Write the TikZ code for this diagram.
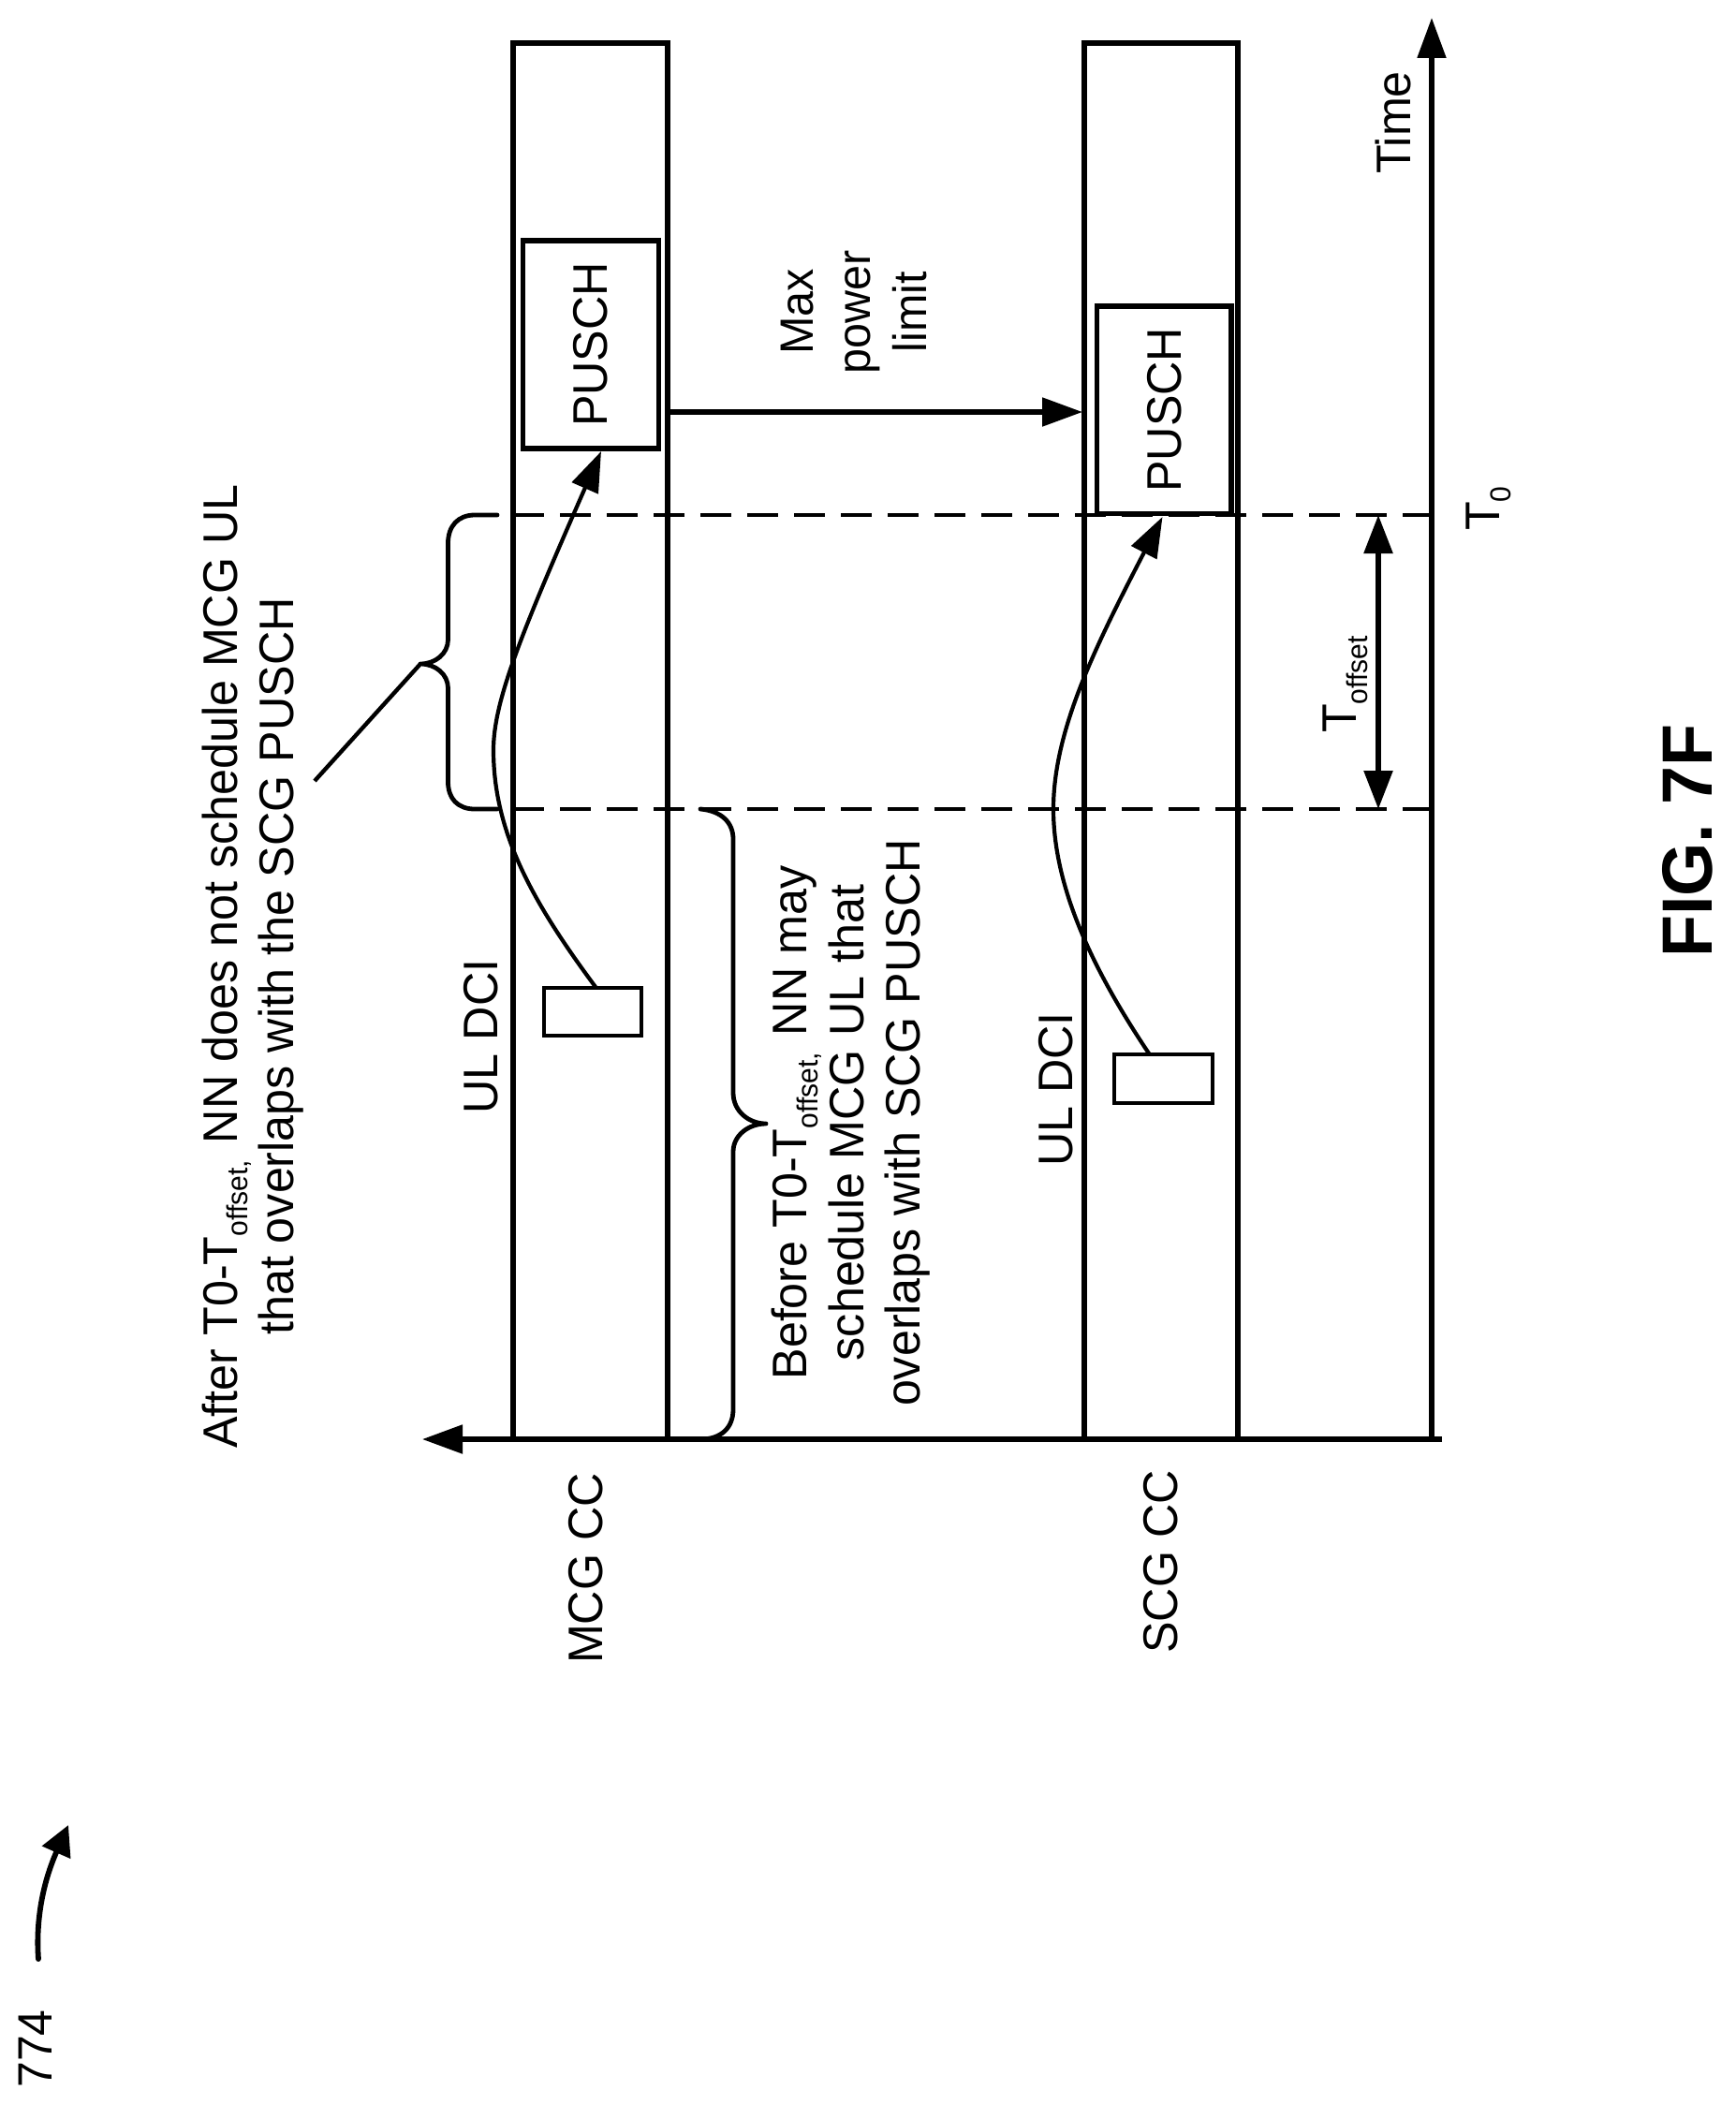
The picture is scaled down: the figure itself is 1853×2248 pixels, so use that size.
\documentclass[tikz,border=0pt]{standalone}
\usepackage{fontspec}
\setmainfont[FakeStretch=0.97]{Liberation Sans}
\usetikzlibrary{arrows.meta}
\newcommand{\lowsub}[1]{\raisebox{-0.22em}{\fontsize{31}{31}\selectfont #1}}
\tikzset{
  x=1pt,y=-1pt,
  lab/.style={rotate=90,inner sep=0pt,outer sep=0pt,align=center,font=\fontsize{51.8}{60.5}\selectfont},
  thick line/.style={line width=5.2pt},
  band/.style={draw,thick line,inner sep=0pt,outer sep=0pt},
  pbox/.style={draw,thick line,inner sep=0pt,outer sep=0pt,rotate=90,font=\fontsize{51.8}{60}\selectfont},
  dbox/.style={draw,line width=4.2pt,inner sep=0pt,outer sep=0pt},
  bighead/.style={-{Triangle[length=43pt,width=30pt]}},
  curvehead/.style={line width=4.2pt,-{Triangle[length=43pt,width=30pt]}},
  dashline/.style={line width=4.6pt,dash pattern=on 33pt off 17pt},
  bracelike/.style={line width=4.8pt,line join=round,line cap=round},
}
\begin{document}
\begin{tikzpicture}
\useasboundingbox (0,0) rectangle (1853,2248);
% bands
\node[band,minimum width=165pt,minimum height=1491pt] (mcgband) at (630.5,791.5) {};
\node[band,minimum width=164pt,minimum height=1491pt] (scgband) at (1240,791.5) {};
% boxes
\node[pbox,minimum width=222pt,minimum height=144.5pt] (pusch1) at (631,368) {PUSCH};
\node[pbox,minimum width=221.5pt,minimum height=143.5pt] (pusch2) at (1243.2,437.8) {PUSCH};
\node[dbox,minimum width=104pt,minimum height=51pt] (dci1) at (633,1080.5) {};
\node[dbox,minimum width=105pt,minimum height=51.5pt] (dci2) at (1242.5,1152) {};
% coordinates
\coordinate (origin) at (1529,1537);
\coordinate (timetip) at (1529,19);
\coordinate (axisend) at (1540,1537);
\coordinate (axistip) at (451,1537);
\coordinate (maxstart) at (713,440);
\coordinate (maxend) at (1156,440);
\coordinate (dtop) at (548,550);
\coordinate (dtopend) at (1529,550);
\coordinate (dbot) at (548,864);
\coordinate (dbotend) at (1529,864);
\coordinate (offtop) at (1472,550);
\coordinate (offbot) at (1472,864);
\coordinate (tip1) at (642,482);
\coordinate (from1) at (636,1054);
\coordinate (tip2) at (1241.5,552);
\coordinate (from2) at (1227,1125);
\coordinate (bracetip) at (449,709);
\coordinate (leaderend) at (336,834);
\coordinate (refstart) at (41,2092);
\coordinate (reftip) at (73,1949);
% axes
\draw[thick line,bighead] (axisend) -- (axistip);
\draw[thick line,bighead] (origin) -- (timetip);
% dashes
\draw[dashline] (dtop) -- (dtopend);
\draw[dashline] (dbot) -- (dbotend);
% arrows
\draw[thick line,bighead] (maxstart) -- (maxend);
\draw[line width=5.6pt,{Triangle[length=41pt,width=30pt]}-{Triangle[length=41pt,width=30pt]}] (offbot) -- (offtop);
\draw[curvehead] (from1) .. controls (570,965) and (527,890) .. (527,801) .. controls (527,750) and (555,680) .. (tip1);
\draw[curvehead] (from2) .. controls (1170,1040) and (1125,950) .. (1125,864) .. controls (1125,780) and (1170,690) .. (tip2);
% braces
\draw[bracelike] (531,550) -- (507,550) .. controls (489,550) and (478.5,562) .. (478.5,580) -- (478.5,683) .. controls (478.5,698) and (465,709) .. (bracetip) .. controls (465,709) and (478.5,720) .. (478.5,735) -- (478.5,835) .. controls (478.5,853) and (489,864) .. (507,864) -- (531,864);
\draw[bracelike] (748,864) .. controls (770,866) and (783,878) .. (783,896) -- (783,1167) .. controls (783,1187) and (800,1200) .. (818,1200) .. controls (800,1200) and (783,1212) .. (783,1230) -- (783,1505) .. controls (783,1525) and (770,1537) .. (748,1537);
\draw[line width=4.4pt] (bracetip) -- (leaderend);
% 774 arrow
\draw[line width=5.8pt,line cap=round,-{Triangle[length=32pt,width=32pt]}] (refstart) .. controls (38,2050) and (46,2010) .. (reftip);
% labels
\node[lab,font=\fontsize{50}{60.5}\selectfont] (maxlabel) at (912,333) {Max\\power\\limit};
\node[lab] (timelabel) at (1488,131) {Time};
\node[lab] (t0label) at (1590,543) {T\lowsub{0}};
\node[lab] (tofflabel) at (1437,731) {T\lowsub{offset}};
\node[lab] (dcilabel1) at (513.5,1107) {UL DCI};
\node[lab] (dcilabel2) at (1128,1163.5) {UL DCI};
\node[lab] (mcglabel) at (625.5,1675) {MCG CC};
\node[lab] (scglabel) at (1240,1668) {SCG CC};
\node[lab] (afterlabel) at (270,1032) {After T0-T\lowsub{offset,}\hspace{4pt} NN does not schedule MCG UL\\that overlaps with the SCG PUSCH};
\node[lab] (beforelabel) at (909,1199) {Before T0-T\lowsub{offset,}\hspace{4pt} NN may\\schedule MCG UL that\\overlaps with SCG PUSCH};
\node[lab,font=\bfseries\fontsize{76}{80}\selectfont] (figlabel) at (1802,898) {FIG. 7F};
\node[lab,font=\fontsize{51.5}{60}\selectfont] (reflabel) at (38,2188) {774};
\end{tikzpicture}
\end{document}
